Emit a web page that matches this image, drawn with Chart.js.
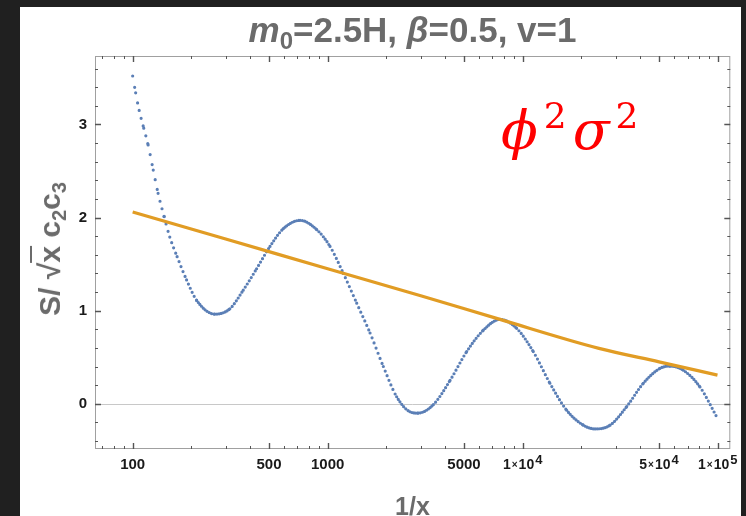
<!DOCTYPE html>
<html>
<head>
<meta charset="utf-8">
<script src="https://cdn.jsdelivr.net/npm/chart.js@4.4.1/dist/chart.umd.min.js"></script>
<style>
  body { margin: 0; background: #202020; width: 746px; height: 516px; overflow: hidden; position: relative; font-family: 'Liberation Sans', Arial, sans-serif; }
  #card { position: absolute; left: 20px; top: 7px; width: 721px; height: 509px; background: #fff; overflow: hidden; }
  #chart { position: absolute; left: 0; top: 0; }
  .lbl { position: absolute; color: #6b6b6b; font-weight: bold; white-space: nowrap; line-height: 1; }
  #title { left: 75px; width: 635px; top: 5px; text-align: center; font-size: 35px; }
  #title sub { font-size: 24px; vertical-align: -7px; line-height: 0; }
  #xtitle { left: 75px; width: 635px; top: 487px; text-align: center; font-size: 25px; }
  #ytitle { left: 30px; top: 242px; font-size: 30px; transform: translate(-50%, -50%) rotate(-90deg); }
  #ytitle sub { font-size: 20px; vertical-align: -6px; line-height: 0; }
  #ytitle .ov { border-top: 2.5px solid #6b6b6b; padding-top: 1px; }
  #note { position: absolute; left: 481px; top: 97px; color: #ff0000; font-family: 'DejaVu Serif', serif; font-size: 54px; line-height: 1; white-space: nowrap; }
  #note i { font-style: italic; }
  #note sup { font-size: 36px; font-style: normal; vertical-align: 21px; line-height: 0; margin-left: 6px; margin-right: 6px; }
</style>
</head>
<body>
<div id="card">
  <canvas id="chart" width="721" height="509"></canvas>
  <div class="lbl" id="title"><i>m</i><sub>0</sub>=2.5H, <i>β</i>=0.5, v=1</div>
  <div class="lbl" id="ytitle">S/ √<span class="ov">x</span> c<sub>2</sub>c<sub>3</sub></div>
  <div class="lbl" id="xtitle">1/x</div>
  <div id="note"><i>ϕ</i><sup>2</sup><i>σ</i><sup>2</sup></div>
</div>
<script>
const xBlue = [100, 103.6, 108, 114, 120, 127.5, 135, 145, 155, 169, 189, 213, 264, 315, 369, 432, 506, 592, 722, 879,
    1028, 1203, 1409, 1649, 1929, 2258, 2642, 2904, 3480, 4240, 5160, 6280, 7650, 9310, 11330, 13790, 16810, 20460,
    23500, 28050, 34150, 41530, 50580, 56900, 66600, 81100, 98800];
const yBlue = [3.52, 3.34, 3.15, 2.96, 2.78, 2.51, 2.26, 2.01, 1.79, 1.58, 1.33, 1.11, 0.963, 1.02, 1.22, 1.45, 1.69, 1.88, 1.97, 1.87,
    1.69, 1.40, 1.08, 0.76, 0.40, 0.075, -0.086, -0.10, -0.01, 0.25, 0.56, 0.79, 0.906, 0.81, 0.56, 0.22, -0.07, -0.23,
    -0.27, -0.23, -0.03, 0.22, 0.38, 0.405, 0.36, 0.18, -0.14];

const xOrange = [100, 300, 1000, 3000, 7650, 24600, 50000, 99700];
const yOrange = [2.06, 1.77, 1.45, 1.16, 0.906, 0.595, 0.45, 0.308];

const xTicks = [100, 500, 1000, 5000, 10000, 50000, 100000];
const xTickLabels = ['100', '500', '1000', '5000', '1×10^4', '5×10^4', '1×10^5'];
const xMinorTicks = [70, 80, 90, 200, 300, 400, 600, 700, 800, 900, 2000, 3000, 4000, 6000, 7000, 8000, 9000,
    20000, 30000, 40000, 60000, 70000, 80000, 90000];
const yTicks = [0, 1, 2, 3];
const yTickLabels = ['0', '1', '2', '3'];
const yMinorTicks = [-0.4, -0.2, 0.2, 0.4, 0.6, 0.8, 1.2, 1.4, 1.6, 1.8, 2.2, 2.4, 2.6, 2.8, 3.2, 3.4, 3.6];

// dots spaced evenly in x, like the sampled points of the original
const dotStep = 2;
function dotDash(ctx) {
    const dx = Math.abs(ctx.p1.x - ctx.p0.x);
    const len = Math.hypot(dx, ctx.p1.y - ctx.p0.y);
    return [0, dx > 0 ? dotStep * len / dx : dotStep];
}

const FONT = "'Liberation Sans', Arial, sans-serif";

const framePlugin = {
    id: 'frame',
    beforeDatasetsDraw(chart) {
        const {ctx, chartArea: a, scales: {y}} = chart;
        const y0 = Math.round(y.getPixelForValue(0)) + 0.5;
        ctx.save();
        ctx.strokeStyle = '#c8c8c8';
        ctx.lineWidth = 1;
        ctx.beginPath();
        ctx.moveTo(a.left, y0);
        ctx.lineTo(a.right, y0);
        ctx.stroke();
        ctx.restore();
    },
    afterDatasetsDraw(chart) {
        const {ctx, chartArea: a, scales: {x, y}} = chart;
        ctx.save();
        ctx.lineWidth = 1;
        ctx.strokeStyle = '#a0a0a0';
        ctx.strokeRect(a.left + 0.5, a.top + 0.5, a.right - a.left - 1, a.bottom - a.top - 1);
        ctx.strokeStyle = '#555';
        const xt = (vals, len) => vals.forEach(v => {
            const p = Math.round(x.getPixelForValue(v)) + 0.5;
            ctx.moveTo(p, a.bottom); ctx.lineTo(p, a.bottom - len);
            ctx.moveTo(p, a.top); ctx.lineTo(p, a.top + len);
        });
        const yt = (vals, len) => vals.forEach(v => {
            const p = Math.round(y.getPixelForValue(v)) + 0.5;
            ctx.moveTo(a.left, p); ctx.lineTo(a.left + len, p);
            ctx.moveTo(a.right, p); ctx.lineTo(a.right - len, p);
        });
        ctx.beginPath();
        xt(xMinorTicks, 3);
        yt(yMinorTicks, 3);
        ctx.stroke();
        ctx.lineWidth = 1.4;
        ctx.beginPath();
        xt(xTicks, 6);
        yt(yTicks, 6);
        ctx.stroke();

        // x tick labels, with real superscripts for the powers of ten
        ctx.fillStyle = '#1a1a1a';
        ctx.textBaseline = 'alphabetic';
        ctx.textAlign = 'left';
        const base = a.bottom + 20;
        xTicks.forEach((v, i) => {
            const p = x.getPixelForValue(v);
            const parts = xTickLabels[i].split('^');
            if (parts.length === 1) {
                ctx.font = 'bold 15px ' + FONT;
                const w = ctx.measureText(parts[0]).width;
                ctx.fillText(parts[0], p - w / 2, base);
                return;
            }
            const [m, rest] = parts[0].split('×');
            ctx.font = 'bold 14px ' + FONT;
            const wm = ctx.measureText(m).width;
            const wr = ctx.measureText(rest).width;
            ctx.font = 'bold 10px ' + FONT;
            const wx = ctx.measureText('×').width + 2;
            ctx.font = 'bold 13px ' + FONT;
            const we = ctx.measureText(parts[1]).width;
            let cx = p - (wm + wx + wr + we + 1) / 2;
            ctx.font = 'bold 14px ' + FONT;
            ctx.fillText(m, cx, base);
            cx += wm + 1;
            ctx.font = 'bold 10px ' + FONT;
            ctx.fillText('×', cx, base - 1);
            cx += wx - 1;
            ctx.font = 'bold 14px ' + FONT;
            ctx.fillText(rest, cx, base);
            cx += wr + 1;
            ctx.font = 'bold 13px ' + FONT;
            ctx.fillText(parts[1], cx, base - 5);
        });
        ctx.restore();
    }
};

new Chart(document.getElementById('chart'), {
    type: 'scatter',
    data: {
        datasets: [{
            data: xOrange.map((x, i) => ({x: x, y: yOrange[i]})),
            showLine: true,
            borderColor: '#e19c24',
            borderWidth: 3.2,
            pointRadius: 0,
            cubicInterpolationMode: 'monotone'
        }, {
            data: xBlue.map((x, i) => ({x: x, y: yBlue[i]})),
            showLine: true,
            borderColor: '#5b7fb6',
            borderWidth: 3.2,
            borderCapStyle: 'round',
            pointRadius: 0,
            cubicInterpolationMode: 'monotone',
            segment: {borderDash: dotDash}
        }]
    },
    options: {
        responsive: false,
        animation: false,
        layout: {padding: {top: 49, right: 10.7, bottom: 0, left: 0}},
        plugins: {legend: false, tooltip: false, title: {display: false}},
        scales: {
            x: {
                type: 'logarithmic',
                min: 64.1,
                max: 116000,
                afterBuildTicks: s => { s.ticks = xTicks.map(v => ({value: v})); },
                afterFit: s => { s.height = 67; },
                grid: {display: false, drawTicks: false},
                border: {display: false},
                ticks: {display: false}
            },
            y: {
                type: 'linear',
                min: -0.486,
                max: 3.735,
                afterBuildTicks: s => { s.ticks = yTicks.map(v => ({value: v})); },
                afterFit: s => { s.width = 75; },
                grid: {display: false, drawTicks: false},
                border: {display: false},
                ticks: {
                    padding: 8, color: '#1a1a1a',
                    font: {family: FONT, weight: 'bold', size: 15},
                    callback: (v, i) => yTickLabels[i]
                }
            }
        }
    },
    plugins: [framePlugin]
});
</script>
</body>
</html>
